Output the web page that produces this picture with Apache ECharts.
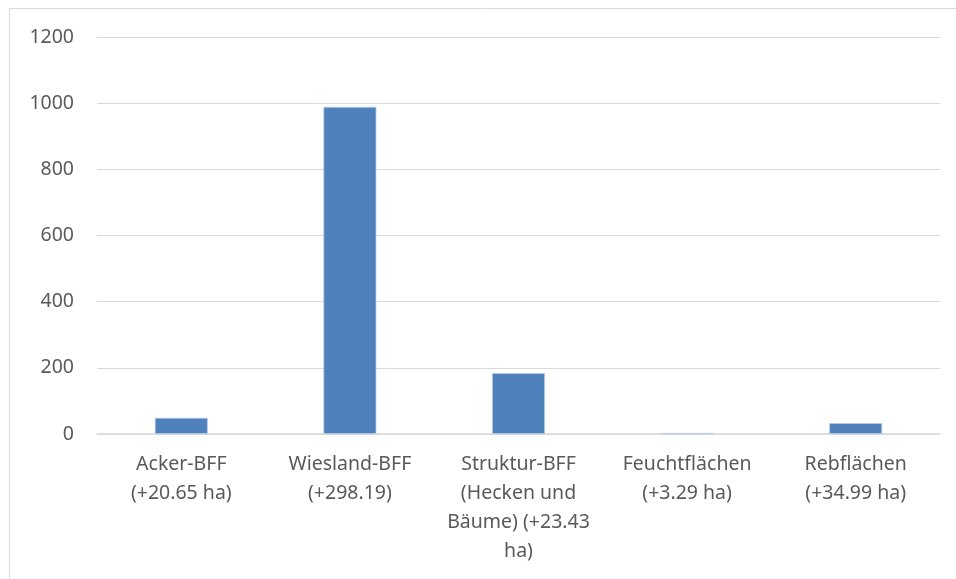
<!DOCTYPE html>
<html>
<head>
<meta charset="utf-8">
<script src="https://cdn.jsdelivr.net/npm/echarts@6/dist/echarts.min.js"></script>
<style>
  html, body { margin: 0; padding: 0; background: #fff; }
  #chart { width: 956px; height: 579px; }
</style>
</head>
<body>
<div id="chart"></div>
<script>
// Flächen je BFF-Typ (ha)
const categories = [
  'Acker-BFF\n(+20.65 ha)',
  'Wiesland-BFF\n(+298.19)',
  'Struktur-BFF\n(Hecken und\nBäume) (+23.43\nha)',
  'Feuchtflächen\n(+3.29 ha)',
  'Rebflächen\n(+34.99 ha)'
];
const values = [49, 989, 184, 3, 33];
const yTicks = { min: 0, max: 1200, interval: 200 };

const textColor = '#595959';
const fontFamily = '"Noto Sans", "Open Sans", sans-serif';

const chart = echarts.init(document.getElementById('chart'), null, { renderer: 'canvas' });
chart.setOption({
  animation: false,
  backgroundColor: '#ffffff',
  graphic: [{
    type: 'rect',
    shape: { x: 9.5, y: 8.5, width: 1200, height: 1200 },
    style: { fill: 'none', stroke: '#d9d9d9', lineWidth: 1 },
    silent: true
  }],
  grid: { left: 97, right: 16, top: 37, bottom: 145, containLabel: false },
  xAxis: {
    type: 'category',
    data: categories,
    axisLine: { show: true, lineStyle: { color: '#d9d9d9', width: 1.5 } },
    axisTick: { show: false },
    axisLabel: {
      interval: 0,
      color: textColor,
      fontFamily: fontFamily,
      fontSize: 19.5,
      lineHeight: 29,
      margin: 16,
      align: 'center'
    }
  },
  yAxis: {
    type: 'value',
    min: yTicks.min,
    max: yTicks.max,
    interval: yTicks.interval,
    axisLine: { show: false },
    axisTick: { show: false },
    splitLine: { lineStyle: { color: '#d9d9d9', width: 1.2 } },
    axisLabel: {
      color: textColor,
      fontFamily: fontFamily,
      fontSize: 19.5,
      margin: 23,
      formatter: v => String(v)
    }
  },
  series: [{
    type: 'bar',
    data: values,
    barWidth: 53,
    itemStyle: { color: '#4f81bd', borderColor: '#b9cde6', borderWidth: 0.8 }
  }]
});
</script>
</body>
</html>
